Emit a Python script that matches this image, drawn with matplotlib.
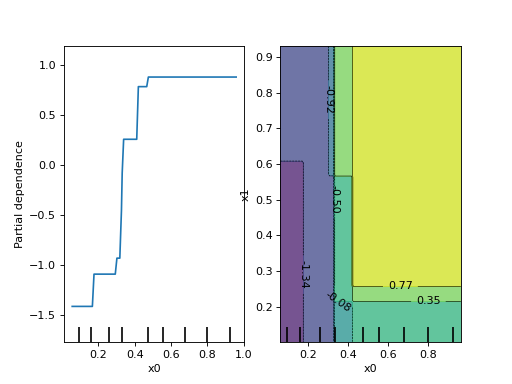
import numpy as np
import matplotlib
matplotlib.use("Agg")
import matplotlib.pyplot as plt
from matplotlib import transforms

# ---- one-way partial dependence on x0 (step corners)
pd_x0 = [0.056, 0.167, 0.176, 0.293, 0.302, 0.318, 0.327, 0.331, 0.339, 0.411,
         0.420, 0.466, 0.475, 0.958]
pd_y = [-1.413, -1.413, -1.09, -1.09, -0.93, -0.93, -0.45, -0.08, 0.26, 0.26,
        0.787, 0.787, 0.883, 0.883]

# deciles of the features
deciles_x0 = [0.091, 0.160, 0.258, 0.331, 0.473, 0.555, 0.679, 0.798, 0.922]

# ---- two-way partial dependence (x0, x1): piecewise constant table
x0_range = (0.060, 0.962)
x1_range = (0.102, 0.930)
x0_edges = [0.173, 0.298, 0.331, 0.418]
x1_edges = [0.215, 0.255, 0.570, 0.604]
# rows: x1 intervals (low -> high); cols: x0 intervals (low -> high)
pd2_table = [
    [-1.55, -1.15, -1.15, -0.30, 0.15],
    [-1.55, -1.15, -1.15, 0.15, 0.55],
    [-1.55, -1.15, -1.15, 0.15, 0.95],
    [-1.55, -1.15, -0.70, 0.55, 0.95],
    [-1.15, -1.15, -0.70, 0.55, 0.95],
]
pdp_lim = (-1.767, 1.193)

# approximate label anchor points for the contour labels
label_pos = [(0.173, 0.29), (0.300, 0.78), (0.3285, 0.50), (0.35, 0.205),
             (0.80, 0.215), (0.66, 0.255)]

fig, (ax1, ax2) = plt.subplots(1, 2, figsize=(6.4, 4.8), dpi=80)

# left panel
ax1.plot(pd_x0, pd_y, color="C0")
trans = transforms.blended_transform_factory(ax1.transData, ax1.transAxes)
ax1.vlines(deciles_x0, 0, 0.05, transform=trans, colors="k")
ax1.set_ylim(*pdp_lim)
ax1.set_xlabel("x0")
ax1.set_ylabel("Partial dependence")

# right panel
gx = np.linspace(x0_range[0], x0_range[1], 100)
gy = np.linspace(x1_range[0], x1_range[1], 100)
XX, YY = np.meshgrid(gx, gy)
tab = np.array(pd2_table)
Z = tab[np.searchsorted(x1_edges, YY, side="right"),
        np.searchsorted(x0_edges, XX, side="right")]
Z_level = np.linspace(*pdp_lim, num=8)
CS = ax2.contour(XX, YY, Z, levels=Z_level, linewidths=0.5, colors="k")
ax2.contourf(XX, YY, Z, levels=Z_level, vmin=Z_level[0], vmax=Z_level[-1],
             alpha=0.75, cmap="viridis")
ax2.clabel(CS, fmt="%2.2f", colors="k", fontsize=10, inline=True,
           manual=label_pos)
trans2 = transforms.blended_transform_factory(ax2.transData, ax2.transAxes)
ax2.vlines(deciles_x0, 0, 0.05, transform=trans2, colors="k")
ax2.set_xlim(*x0_range)
ax2.set_ylim(*x1_range)
ax2.set_xticks([0.2, 0.4, 0.6, 0.8])
ax2.set_xlabel("x0")
ax2.set_ylabel("x1")

fig.savefig("out.png", dpi=80)
